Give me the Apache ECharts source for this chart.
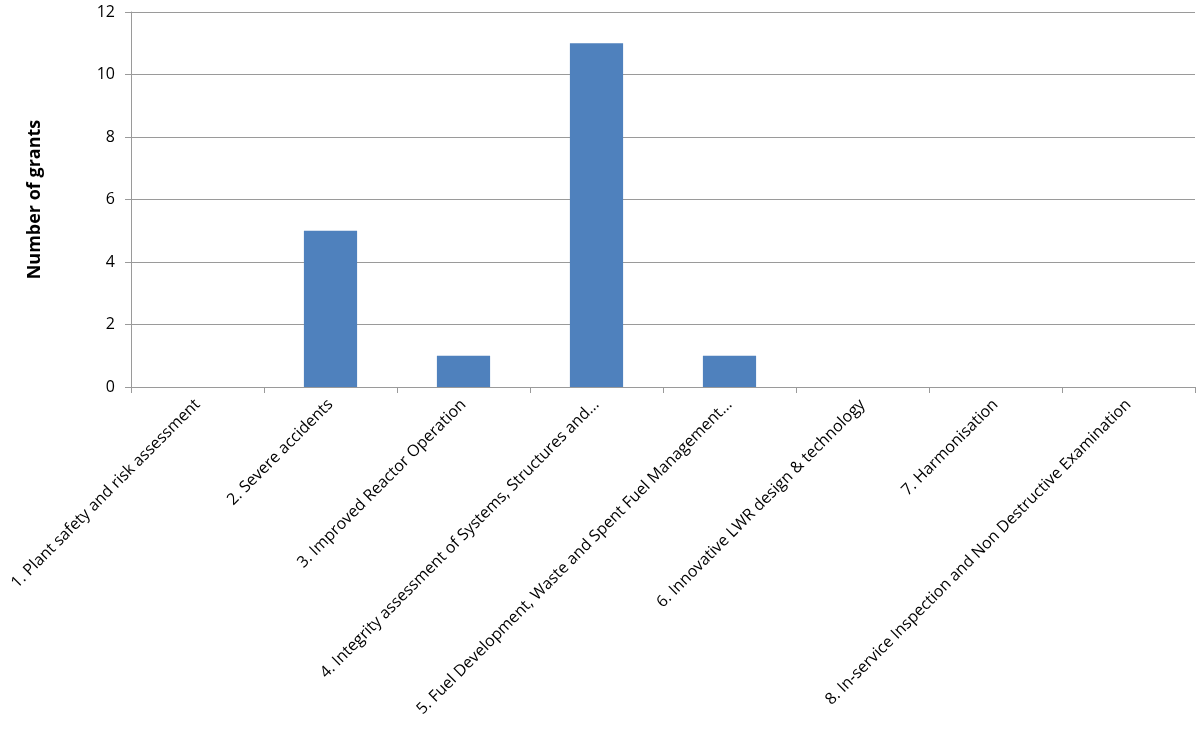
<!DOCTYPE html>
<html><head><meta charset="utf-8">
<script src="https://cdn.jsdelivr.net/npm/echarts@6/dist/echarts.min.js"></script>
<style>html,body{margin:0;padding:0;background:#fff}#c{width:1200px;height:735px}</style>
</head><body><div id="c"></div>
<script>
const categories = [
  "1. Plant safety and risk assessment",
  "2. Severe accidents",
  "3. Improved Reactor Operation",
  "4. Integrity assessment of Systems, Structures and...",
  "5. Fuel Development, Waste and Spent Fuel Management...",
  "6. Innovative LWR design & technology",
  "7. Harmonisation",
  "8. In-service Inspection and Non Destructive Examination"
];
const grants = [0, 5, 1, 11, 1, 0, 0, 0];
const yTicks = { min: 0, max: 12, interval: 2 };
const yTitle = "Number of grants";

const font = '"Open Sans", "Liberation Sans", sans-serif';
const chart = echarts.init(document.getElementById('c'), null, {renderer: 'canvas'});
chart.setOption({
  animation: false,
  grid: { left: 131, right: 5, top: 12, bottom: 348, containLabel: false },
  xAxis: {
    type: 'category',
    data: categories,
    axisLine: { lineStyle: { color: '#9a9a9a', width: 1 } },
    axisTick: { show: true, length: 6, alignWithLabel: false, lineStyle: { color: '#9a9a9a' } },
    axisLabel: { rotate: 45, interval: 0, margin: 15, color: '#000', fontSize: 16, fontFamily: font }
  },
  yAxis: {
    type: 'value',
    min: yTicks.min, max: yTicks.max, interval: yTicks.interval,
    name: yTitle,
    nameLocation: 'middle',
    nameGap: 87,
    nameRotate: 90,
    nameTextStyle: { fontSize: 18, color: '#000', fontFamily: font, fontWeight: 'bold' },
    axisLine: { show: true, lineStyle: { color: '#9a9a9a', width: 1 } },
    axisTick: { show: true, length: 6, lineStyle: { color: '#9a9a9a' } },
    axisLabel: { color: '#000', fontSize: 16, fontFamily: font, margin: 16 },
    splitLine: { lineStyle: { color: '#9a9a9a', width: 1 } }
  },
  series: [{
    type: 'bar',
    data: grants,
    barWidth: '40%',
    itemStyle: { color: '#4F81BD' }
  }]
});
</script></body></html>
